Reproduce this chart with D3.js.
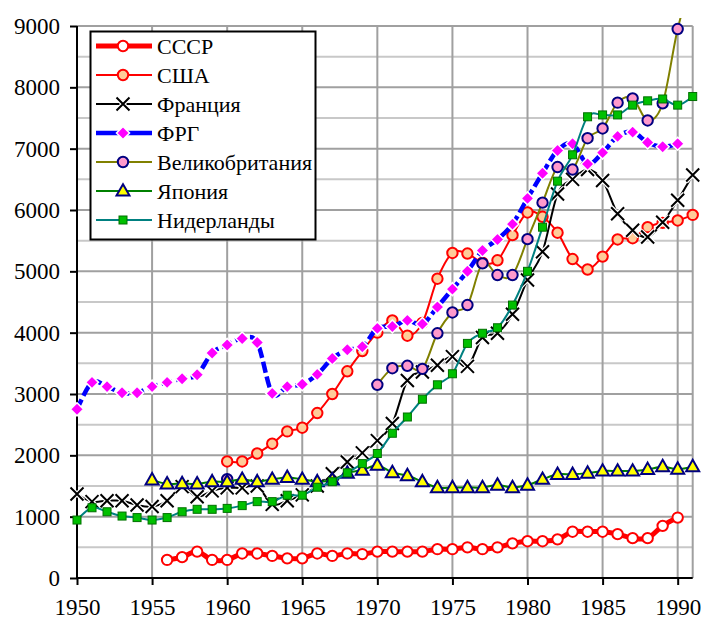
<!DOCTYPE html>
<html>
<head>
<meta charset="utf-8">
<script src="https://cdn.jsdelivr.net/npm/d3@7"></script>
<style>
  html, body { margin: 0; padding: 0; background: #fff; }
  svg { display: block; }
</style>
</head>
<body>
<svg id="chart" width="701" height="621"></svg>
<script>
// ---------- DATA ----------
const years = d3.range(1950, 1992);
const yTicks = [0, 1000, 2000, 3000, 4000, 5000, 6000, 7000, 8000, 9000];
const xTicks = [1950, 1955, 1960, 1965, 1970, 1975, 1980, 1985, 1990];
const names = ["СССР", "США", "Франция", "ФРГ", "Великобритания", "Япония", "Нидерланды"];

const N = null;
// values indexed 1950..1991
const ussr = [N,N,N,N,N,N, 295,340,430,295,295,400,400,360,320,320,400,360,400,390,
  430,430,430,430,470,470,500,470,500,565,600,600,630,755,755,755,715,650,650,850,985,N];
const usa = [N,N,N,N,N,N,N,N,N,N, 1900,1900,2030,2190,2390,2450,2690,3000,3370,3700,
  4000,4200,3950,4160,4880,5300,5290,5140,5180,5590,5960,5890,5630,5200,5030,5240,5520,5540,5720,5790,5830,5920];
const france = [1370,1245,1260,1260,1190,1165,1260,1490,1325,1420,1470,1470,1500,1200,1260,1355,1500,1700,1890,2040,
  2240,2520,3220,3360,3470,3610,3450,3920,3990,4300,4860,5320,6260,6500,6660,6480,5940,5670,5560,5800,6160,6570];
const frg = [2750,3190,3120,3020,3020,3120,3190,3250,3315,3670,3800,3905,3840,3010,3120,3160,3320,3580,3720,3770,
  4070,4100,4200,4140,4420,4710,5000,5340,5520,5770,6190,6600,6970,7080,6750,6935,7200,7270,7100,7030,7080,N];
const uk = [N,N,N,N,N,N,N,N,N,N, 1610,N,N,N,N,N,N,N,N,N,
  3150,3420,3460,3410,3990,4330,4450,5130,4940,4940,5525,6120,6700,6660,7170,7330,7750,7820,7460,7740,8950,9800];
const japan = [N,N,N,N,N, 1600,1535,1540,1535,1570,1570,1610,1570,1610,1640,1610,1570,1600,1710,1760,
  1840,1720,1670,1570,1475,1475,1475,1475,1515,1475,1515,1610,1690,1690,1710,1745,1745,1745,1770,1815,1775,1815];
const netherlands = [945,1145,1080,1010,985,945,985,1080,1120,1120,1135,1180,1245,1245,1350,1350,1480,1570,1715,1865,
  2030,2360,2625,2915,3150,3330,3825,3990,4080,4450,5000,5720,6470,6900,7520,7550,7550,7710,7780,7810,7710,7850];

// ---------- LAYOUT ----------
const svg = d3.select("#chart");
const X0 = 77, X1 = 692.7, Y0 = 578, Y1 = 26;
const x = d3.scaleLinear().domain([1950, 1991]).range([X0, X1]);
const y = d3.scaleLinear().domain([0, 9000]).range([Y0, Y1]);
const FAM = "'Liberation Serif'";

// gridlines
const grid = svg.append("g");
grid.selectAll("line.minor").data(d3.range(500, 9000, 1000)).join("line")
  .attr("x1", X0).attr("x2", X1).attr("y1", d => y(d)).attr("y2", d => y(d))
  .attr("stroke", "#c8c8c8").attr("stroke-width", 2);
grid.selectAll("line.major").data(yTicks.slice(1)).join("line")
  .attr("x1", X0).attr("x2", X1).attr("y1", d => y(d)).attr("y2", d => y(d))
  .attr("stroke", "#a0a0a0").attr("stroke-width", 2);
grid.selectAll("line.vert").data(xTicks.slice(1).concat([1991])).join("line")
  .attr("x1", d => x(d)).attr("x2", d => x(d)).attr("y1", Y0).attr("y2", Y1)
  .attr("stroke", "#a0a0a0").attr("stroke-width", 2);

// axes
const yAxis = d3.axisLeft(y).tickValues(yTicks).tickSize(7).tickPadding(10).tickFormat(d3.format("d"));
const gy = svg.append("g").attr("transform", `translate(${X0},0)`).call(yAxis);
const xAxis = d3.axisBottom(x).tickValues(xTicks).tickSize(7).tickPadding(14).tickFormat(d3.format("d"));
const gx = svg.append("g").attr("transform", `translate(0,${Y0})`).call(xAxis);
[gx, gy].forEach(g => {
  g.attr("font-family", null).attr("font-size", null);
  g.select(".domain").attr("stroke", "#000").attr("stroke-width", 2);
  g.selectAll(".tick line").attr("stroke", "#000").attr("stroke-width", 2);
  g.selectAll(".tick text").style("font-family", FAM).style("font-size", "23px").attr("fill", "#000");
});
gy.select(".domain").attr("d", `M0,${Y0}V${Y1}`);
gx.select(".domain").attr("d", `M${X0},0H${X1}`);

// clip
svg.append("clipPath").attr("id", "clip").append("rect")
  .attr("x", 0).attr("y", 18).attr("width", 701).attr("height", 603);

// ---------- SERIES ----------
const series = [
  { name: names[0], vals: ussr, color: "#ff0000", width: 5, dash: null, marker: "circle", fill: "#ffffff", mstroke: "#ff0000" },
  { name: names[1], vals: usa, color: "#ff0000", width: 2, dash: null, marker: "circle", fill: "#ffcc99", mstroke: "#ff0000" },
  { name: names[2], vals: france, color: "#000000", width: 2, dash: null, marker: "x", fill: "none", mstroke: "#000000" },
  { name: names[3], vals: frg, color: "#0000ff", width: 4.5, dash: "11,4", marker: "diamond", fill: "#ff00ff", mstroke: "#ffffff" },
  { name: names[4], vals: uk, color: "#808000", width: 2, dash: null, marker: "circle", fill: "#ff99cc", mstroke: "#000080" },
  { name: names[5], vals: japan, color: "#008000", width: 2, dash: null, marker: "triangle", fill: "#ffff00", mstroke: "#000080" },
  { name: names[6], vals: netherlands, color: "#008080", width: 2, dash: null, marker: "square", fill: "#00c000", mstroke: "#007000" }
];

const line = d3.line()
  .defined(d => d.v !== null)
  .x(d => x(d.year)).y(d => y(d.v))
  .curve(d3.curveCardinal.tension(0));

function drawMarker(g, type, s, cx, cy) {
  if (type === "circle") {
    g.append("circle").attr("cx", cx).attr("cy", cy).attr("r", 5.2)
      .attr("fill", s.fill).attr("stroke", s.mstroke).attr("stroke-width", 2);
  } else if (type === "x") {
    const r = 6.5;
    const p = `M${cx-r},${cy-r}L${cx+r},${cy+r}M${cx-r},${cy+r}L${cx+r},${cy-r}`;
    g.append("path").attr("d", p).attr("stroke", "#fff").attr("stroke-width", 4.5);
    g.append("path").attr("d", p).attr("stroke", s.mstroke).attr("stroke-width", 2);
  } else if (type === "diamond") {
    const r = 6.5;
    g.append("path").attr("d", `M${cx},${cy-r}L${cx+r},${cy}L${cx},${cy+r}L${cx-r},${cy}Z`)
      .attr("fill", s.fill).attr("stroke", s.mstroke).attr("stroke-width", 1.5);
  } else if (type === "triangle") {
    const h = 11, w = 13;
    g.append("path").attr("d", `M${cx},${cy-h*0.62}L${cx+w/2},${cy+h*0.42}L${cx-w/2},${cy+h*0.42}Z`)
      .attr("fill", s.fill).attr("stroke", s.mstroke).attr("stroke-width", 2).attr("stroke-linejoin", "miter");
  } else if (type === "square") {
    const a = 8;
    g.append("rect").attr("x", cx-a/2).attr("y", cy-a/2).attr("width", a).attr("height", a)
      .attr("fill", s.fill).attr("stroke", s.mstroke).attr("stroke-width", 1);
  }
}

const plot = svg.append("g").attr("clip-path", "url(#clip)");
series.forEach(s => {
  const pts = years.map((yr, i) => ({ year: yr, v: s.vals[i] }));
  const g = plot.append("g");
  g.append("path").datum(pts).attr("d", line)
    .attr("fill", "none").attr("stroke", s.color).attr("stroke-width", s.width)
    .attr("stroke-dasharray", s.dash).attr("stroke-linejoin", "round");
  pts.filter(d => d.v !== null && y(d.v) > 18).forEach(d => drawMarker(g, s.marker, s, x(d.year), y(d.v)));
});

// ---------- LEGEND ----------
const lg = svg.append("g");
lg.append("rect").attr("x", 90.5).attr("y", 31.5).attr("width", 225).attr("height", 208)
  .attr("fill", "#fff").attr("stroke", "#000").attr("stroke-width", 2);
series.forEach((s, i) => {
  const cy = 46 + i * 29;
  lg.append("line").attr("x1", 96).attr("x2", 152).attr("y1", cy).attr("y2", cy)
    .attr("stroke", s.color).attr("stroke-width", s.width);
  drawMarker(lg, s.marker, s, 123, cy);
  lg.append("text").attr("x", 157).attr("y", cy).attr("dy", "0.35em")
    .style("font-family", FAM).style("font-size", "22px").attr("fill", "#000").text(s.name);
});
</script>
</body>
</html>
